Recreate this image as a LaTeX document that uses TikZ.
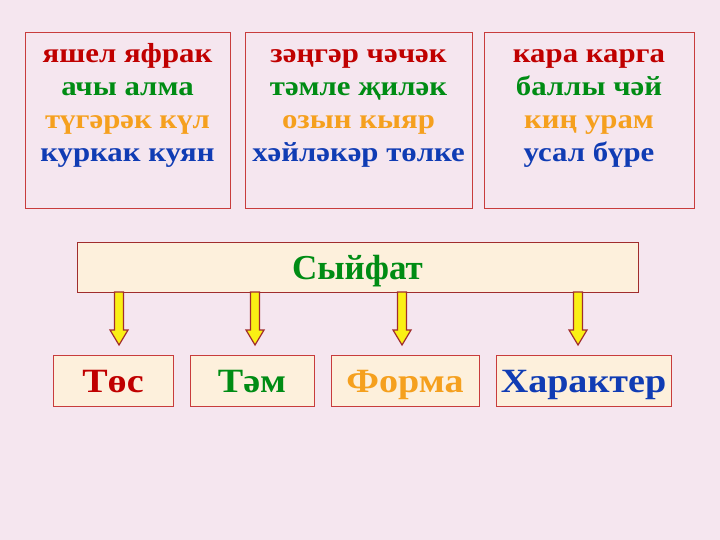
\documentclass[tikz,border=0pt]{standalone}
\usepackage{fontspec}
\setmainfont{Liberation Serif}
\newfontfamily\widefont[FakeStretch=1.12]{Liberation Serif}
\definecolor{bg}{RGB}{245,230,239}
\definecolor{cred}{RGB}{192,0,0}
\definecolor{cgreen}{RGB}{0,140,20}
\definecolor{corange}{RGB}{245,160,30}
\definecolor{cblue}{RGB}{16,60,180}
\definecolor{frame}{RGB}{200,60,60}
\definecolor{cream}{RGB}{253,240,220}
\definecolor{darkframe}{RGB}{160,45,45}
\definecolor{ayellow}{RGB}{250,240,20}
\tikzset{
  topbox/.style={draw=frame, line width=0.9pt, anchor=north west, inner sep=0pt},
  ln/.style={anchor=base, font=\widefont\bfseries\fontsize{27.5}{30}\selectfont, inner sep=0pt},
  botbox/.style={draw=frame, fill=cream, line width=0.9pt, inner sep=0pt, anchor=north west},
  bt/.style={anchor=base, font=\widefont\bfseries\fontsize{34}{38}\selectfont, inner sep=0pt},
  barrow/.style={fill=ayellow, draw=darkframe, line width=1.2pt, line join=miter}
}
\newcommand{\blockarrow}[3]{% x, ytop, ybottom
  \draw[barrow] (#1-4.5,#2) -- (#1+4.5,#2) -- (#1+4.5,#3-15) -- (#1+9,#3-15) -- (#1,#3) -- (#1-9,#3-15) -- (#1-4.5,#3-15) -- cycle;}
\begin{document}
\begin{tikzpicture}[x=1pt,y=-1pt]
\fill[bg] (0,0) rectangle (720,540);
\useasboundingbox (0,0) rectangle (720,540);
% top boxes
\node[topbox, minimum width=205pt, minimum height=176pt] (b1) at (25,32) {};
\node[topbox, minimum width=227pt, minimum height=176pt] (b2) at (245,32) {};
\node[topbox, minimum width=210pt, minimum height=176pt] (b3) at (484,32) {};
% box 1 lines
\node[ln, text=cred]    (l11) at (127.5,63) {яшел яфрак};
\node[ln, text=cgreen]  (l12) at (127.5,96) {ачы алма};
\node[ln, text=corange] (l13) at (127.5,129) {түгәрәк күл};
\node[ln, text=cblue]   (l14) at (127.5,162) {куркак куян};
% box 2 lines
\node[ln, text=cred]    (l21) at (358.5,63) {зәңгәр чәчәк};
\node[ln, text=cgreen]  (l22) at (358.5,96) {тәмле җиләк};
\node[ln, text=corange] (l23) at (358.5,129) {озын кыяр};
\node[ln, text=cblue]   (l24) at (358.5,162) {хәйләкәр төлке};
% box 3 lines
\node[ln, text=cred]    (l31) at (589,63) {кара карга};
\node[ln, text=cgreen]  (l32) at (589,96) {баллы чәй};
\node[ln, text=corange] (l33) at (589,129) {киң урам};
\node[ln, text=cblue]   (l34) at (589,162) {усал бүре};
% Syifat box
\node[draw=darkframe, fill=cream, line width=1pt, anchor=north west, minimum width=561pt, minimum height=50pt, inner sep=0pt] (sf) at (77,242) {};
\node[anchor=base, font=\bfseries\fontsize{35}{40}\selectfont, text=cgreen, inner sep=0pt] (sft) at (357.5,279) {Сыйфат};
% arrows
\blockarrow{119}{292}{345}
\blockarrow{255}{292}{345}
\blockarrow{402}{292}{345}
\blockarrow{578}{292}{345}
% bottom boxes
\node[botbox, minimum width=120pt, minimum height=51pt] (c1) at (53,355) {};
\node[botbox, minimum width=124pt, minimum height=51pt] (c2) at (190,355) {};
\node[botbox, minimum width=148pt, minimum height=51pt] (c3) at (331,355) {};
\node[botbox, minimum width=175pt, minimum height=51pt] (c4) at (496,355) {};
\node[bt, text=cred]    (t1) at (113,392) {Төс};
\node[bt, text=cgreen]  (t2) at (252,392) {Тәм};
\node[bt, text=corange] (t3) at (405,392) {Форма};
\node[bt, text=cblue]   (t4) at (583.5,392) {Характер};
\end{tikzpicture}
\end{document}
